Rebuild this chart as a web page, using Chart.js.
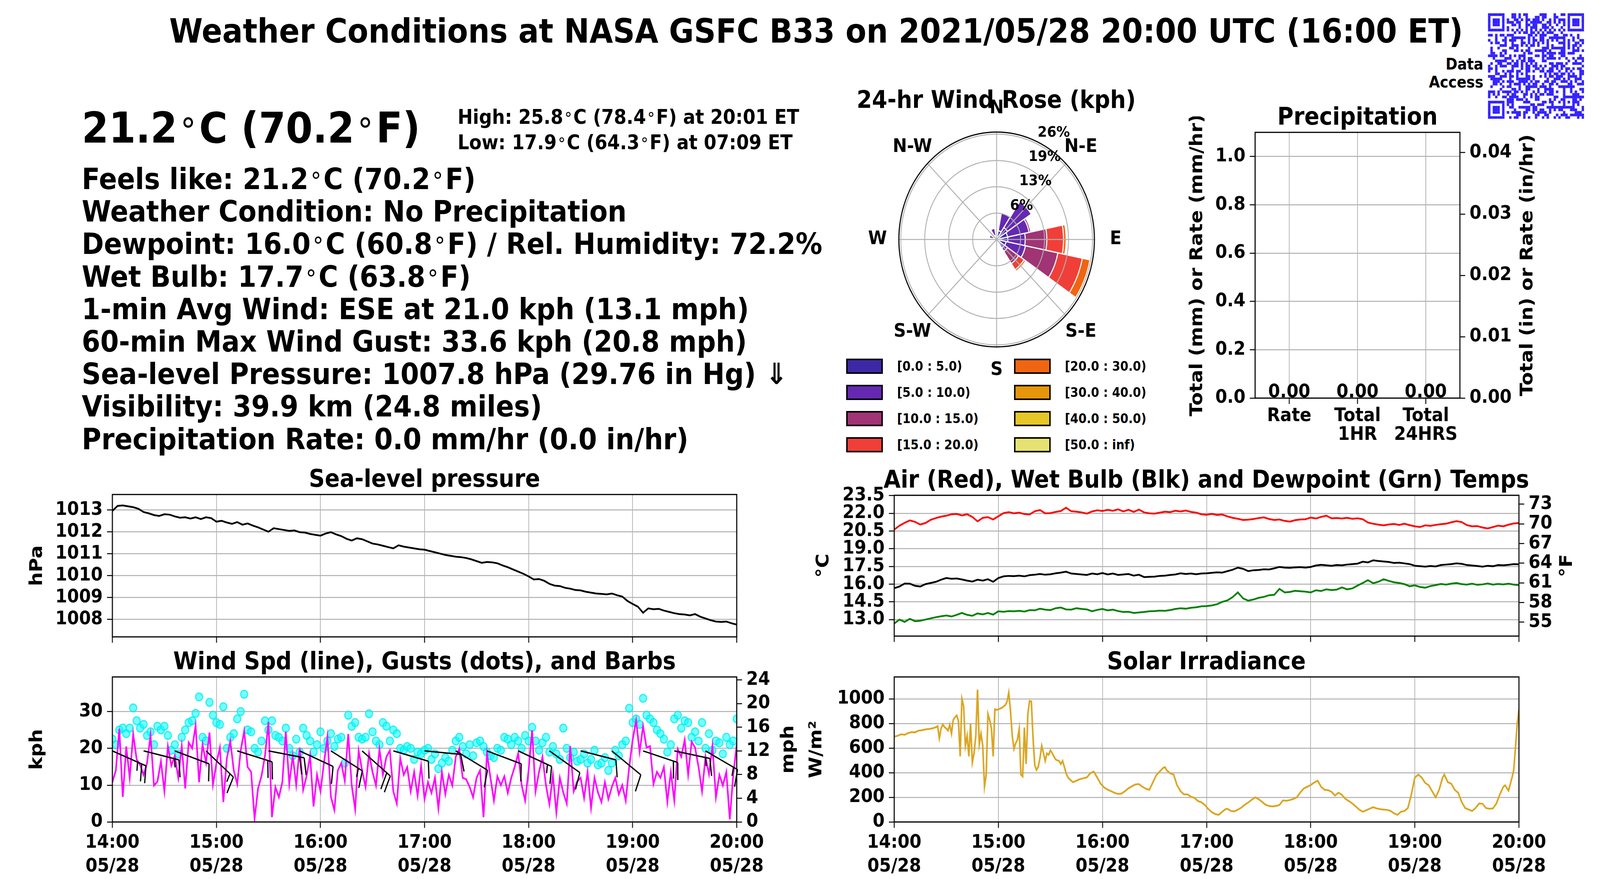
<!DOCTYPE html>
<html lang="en">
<head>
<meta charset="UTF-8">
<title>Weather Conditions at NASA GSFC B33</title>
<script src="https://cdn.jsdelivr.net/npm/chart.js"></script>
<style>
  html, body { margin: 0; padding: 0; background: #fff; overflow: hidden; }
  body { width: 100vw; height: 100vh; }
  #page { position: absolute; left: 0; top: 0; width: 4500px; height: 2250px; transform-origin: 0 0;
          font-family: "DejaVu Sans", sans-serif; font-weight: bold; color: #000; background: #fff; }
  .txt { position: absolute; line-height: 0; white-space: nowrap; }
  .deg { font-weight: normal; font-size: 0.8em; padding: 0 0.1em; }
  .swatch { position: absolute; box-sizing: border-box; border: 4px solid #000; }
  canvas { display: block; }
</style>
</head>
<body>
<div id="page"></div>
<script>
// time axis: minutes after 14:00 on 05/28
const hourTicks = [0, 60, 120, 180, 240, 300, 360];
const hourLabels = ['14:00', '15:00', '16:00', '17:00', '18:00', '19:00', '20:00'];
const dayLabel = '05/28';

// sea-level pressure, hPa, every 3 min
const slpStep = 3;
const slp = [
  1012.95,1013.18,1013.20,1013.16,1013.12,1013.05,1012.90,1012.84,1012.76,1012.72,
  1012.80,1012.78,1012.70,1012.64,1012.66,1012.60,1012.66,1012.58,1012.66,1012.62,
  1012.46,1012.50,1012.42,1012.36,1012.44,1012.32,1012.38,1012.28,1012.20,1012.10,
  1012.00,1012.16,1012.12,1012.08,1012.04,1012.06,1011.98,1011.96,1011.90,1011.86,
  1011.82,1011.92,1011.98,1011.88,1011.80,1011.68,1011.60,1011.70,1011.66,1011.56,
  1011.46,1011.42,1011.36,1011.30,1011.24,1011.38,1011.32,1011.28,1011.24,1011.20,
  1011.18,1011.12,1011.06,1011.00,1010.94,1010.90,1010.86,1010.84,1010.80,1010.74,
  1010.66,1010.58,1010.62,1010.60,1010.56,1010.46,1010.38,1010.28,1010.18,1010.08,
  1009.96,1009.82,1009.84,1009.76,1009.62,1009.54,1009.52,1009.44,1009.40,1009.34,
  1009.32,1009.26,1009.22,1009.18,1009.16,1009.14,1009.18,1009.10,1009.04,1008.84,
  1008.70,1008.58,1008.30,1008.50,1008.46,1008.48,1008.40,1008.34,1008.28,1008.24,
  1008.22,1008.18,1008.24,1008.12,1008.04,1007.96,1007.90,1007.88,1007.90,1007.82,
  1007.76
];

// temperatures, deg C, every 3 min
const tempStep = 3;
const airT = [
  20.62,20.95,21.20,21.40,21.28,21.05,21.18,21.45,21.60,21.72,
  21.80,21.92,21.95,21.82,21.92,21.70,21.32,21.62,21.68,21.48,
  21.75,22.02,22.10,22.00,22.06,21.94,21.90,22.18,22.28,22.00,
  22.02,22.12,22.20,22.48,22.18,22.14,22.08,21.98,22.16,22.26,
  22.20,22.30,22.22,22.34,22.16,22.30,22.12,22.32,22.08,22.00,
  21.98,22.06,22.14,22.10,22.22,22.16,22.24,22.12,22.06,21.92,
  21.88,21.96,21.86,21.90,21.74,21.62,21.54,21.44,21.46,21.52,
  21.60,21.66,21.52,21.44,21.48,21.36,21.30,21.42,21.48,21.50,
  21.64,21.56,21.70,21.80,21.58,21.60,21.56,21.62,21.54,21.58,
  21.50,21.22,21.12,21.04,20.98,21.06,21.10,21.02,21.12,21.00,
  20.90,20.84,20.98,20.94,21.02,21.08,21.12,21.24,21.34,21.26,
  21.00,20.90,20.92,20.80,20.72,20.84,20.96,20.90,21.04,21.14,
  21.18
];
const wetBulb = [
  15.66,15.80,16.05,16.04,15.86,15.80,16.00,16.10,16.20,16.38,
  16.52,16.46,16.48,16.40,16.30,16.22,16.38,16.30,16.42,16.20,
  16.52,16.66,16.70,16.68,16.72,16.66,16.76,16.80,16.86,16.80,
  16.84,16.92,16.98,17.06,16.90,16.86,16.82,16.78,16.90,16.84,
  16.94,16.82,16.90,16.78,16.82,16.86,16.72,16.80,16.60,16.62,
  16.64,16.70,16.72,16.78,16.82,16.92,16.86,16.90,16.84,16.90,
  16.92,16.96,17.00,16.98,17.10,17.22,17.40,17.30,17.10,17.18,
  17.20,17.26,17.24,17.34,17.46,17.40,17.38,17.42,17.44,17.40,
  17.46,17.58,17.64,17.60,17.56,17.62,17.60,17.66,17.70,17.74,
  17.90,17.84,18.02,17.96,17.92,17.88,17.80,17.82,17.76,17.70,
  17.56,17.52,17.48,17.54,17.50,17.62,17.66,17.70,17.76,17.72,
  17.62,17.58,17.54,17.48,17.56,17.52,17.62,17.60,17.64,17.70,
  17.68
];
const dewPt = [
  12.66,13.00,12.80,13.06,12.86,12.90,13.00,13.10,13.20,13.28,
  13.34,13.26,13.40,13.56,13.40,13.32,13.52,13.44,13.56,13.42,
  13.70,13.66,13.72,13.70,13.74,13.68,13.80,13.78,13.92,13.84,
  13.80,13.96,14.02,13.86,13.84,13.96,13.90,13.86,13.70,13.82,
  13.90,13.78,13.84,13.72,13.64,13.66,13.56,13.60,13.64,13.70,
  13.72,13.76,13.74,13.80,13.90,13.96,13.92,14.00,14.04,14.12,
  14.14,14.20,14.30,14.50,14.62,14.90,15.30,14.80,14.60,14.70,
  14.84,14.92,15.06,15.10,15.60,15.30,15.34,15.44,15.40,15.36,
  15.30,15.48,15.42,15.56,15.50,15.54,15.72,15.56,15.64,15.88,
  16.10,16.34,16.08,16.20,16.42,16.28,16.16,16.10,16.00,15.82,
  15.90,15.76,15.70,15.84,15.92,16.02,15.96,16.04,16.10,16.00,
  15.96,16.04,15.94,15.98,16.06,15.96,16.02,15.98,16.04,15.96,
  15.92
];

// wind speed and gusts, kph, every 2 min
const windStep = 2;
const windSpd = [
  10.8,14.0,25.3,6.8,20.5,12.0,23.9,17.0,15.5,12.8,
  16.0,23.5,9.9,11.0,16.5,8.3,20.6,15.3,18.0,12.0,
  20.6,9.1,21.6,20.0,26.2,10.8,21.0,16.1,24.3,10.1,
  16.0,20.2,5.4,17.3,22.0,14.0,10.3,19.4,24.7,14.9,
  13.6,0.9,9.1,12.5,18.0,27.2,1.3,9.5,6.7,10.8,
  24.5,10.3,18.0,10.0,20.2,8.7,12.5,18.0,4.2,12.8,
  8.3,16.0,23.1,6.9,3.2,14.0,16.0,11.2,23.9,10.0,
  3.4,19.4,14.0,9.5,18.6,13.6,9.9,19.8,12.8,17.7,
  19.4,8.3,5.0,17.3,12.8,14.9,8.3,13.6,7.1,15.3,
  6.2,10.8,7.9,12.0,3.6,13.6,7.5,12.8,9.9,17.7,
  19.8,12.0,11.6,9.5,6.7,12.0,14.0,1.3,18.6,12.0,
  5.8,12.4,10.0,12.4,7.9,12.0,15.0,18.6,10.0,5.8,
  14.0,24.9,8.3,13.6,17.7,10.0,4.8,12.8,2.5,12.0,
  8.0,5.0,20.6,8.3,11.0,12.0,6.5,13.6,3.8,12.0,
  8.0,5.4,10.8,6.2,9.5,12.0,7.5,10.0,5.8,14.9,
  22.3,27.6,19.0,26.0,20.2,20.6,10.3,13.6,12.0,14.9,
  5.4,13.6,5.8,19.8,17.7,22.3,12.8,21.8,20.2,14.9,
  8.3,17.7,13.0,20.6,6.7,12.8,9.9,13.6,0.7,12.8,
  21.0
];
const windGust = [
  22.5,21.0,25.0,25.5,24.0,25.5,31.0,27.5,25.5,26.5,
  23.5,24.5,21.0,26.0,25.0,26.0,23.5,19.5,21.0,18.5,
  23.0,25.0,27.0,27.5,29.5,34.0,23.0,22.0,32.5,29.0,
  27.0,26.5,31.3,20.0,23.0,24.0,28.0,30.0,34.7,25.0,
  24.5,20.0,19.0,22.0,27.5,25.0,27.5,23.5,23.0,22.0,
  25.5,20.0,18.0,22.5,19.0,25.5,23.5,22.0,19.0,21.0,
  24.5,20.0,22.0,24.0,20.5,22.5,23.0,16.0,29.0,26.0,
  27.0,23.0,22.5,23.0,29.4,24.5,22.0,21.0,27.0,26.0,
  22.0,25.0,24.0,20.0,19.5,20.5,20.0,17.0,19.0,18.5,
  19.5,20.0,17.0,18.5,14.5,16.0,17.5,16.5,19.5,22.0,
  23.0,20.5,18.5,21.0,18.0,21.5,22.0,20.5,19.0,18.0,
  17.5,20.0,19.5,23.0,22.5,21.0,23.0,22.0,20.0,23.5,
  22.0,25.7,22.0,19.5,21.5,23.0,19.0,20.5,18.5,17.0,
  25.5,20.0,17.5,19.0,16.5,17.0,18.5,16.0,17.0,19.5,
  15.5,16.0,17.5,14.0,16.0,19.5,18.0,21.0,22.0,30.9,
  27.0,28.0,26.5,33.6,29.0,28.0,27.0,25.0,24.0,22.5,
  19.0,21.0,28.0,29.0,25.5,27.5,27.0,23.0,24.5,22.0,
  27.0,20.0,24.0,19.5,22.0,21.5,18.5,23.0,21.0,22.0,
  28.0
];

// wind barbs: time (min), direction (deg from), speed (barb units), anchored at 12 mph
const barbT = [0, 18, 36, 54, 72, 90, 108, 126, 144, 162, 180, 198, 216, 234, 252, 270, 288, 306, 324, 342];
const barbDir = [112, 103, 109, 131, 106, 100, 113, 120, 129, 105, 95, 119, 109, 113, 123, 103, 127, 107, 101, 118];
const barbSpd = [25, 15, 10, 15, 20, 20, 10, 15, 20, 10, 10, 10, 10, 15, 10, 10, 10, 20, 15, 15];
const barbAnchorMph = 12;

// solar irradiance, W/m2
const solarT = [
  0,2,4,6,8,10,12,14,16,18,
  20,22,24,25,26,27,28,29,30,31,
  32,33,34,35,36,37,38,39,40,41,
  42,43,44,45,46,47,48,49,50,51,
  52,53,54,55,56,57,58,59,60,62,
  64,65,66,67,68,69,70,71,72,73,
  74,75,76,77,78,79,80,81,82,83,
  84,85,86,87,88,89,90,91,92,93,
  94,95,96,97,98,99,100,101,103,105,
  107,109,111,113,115,117,119,121,123,125,
  127,129,131,133,135,137,139,141,143,145,
  147,149,151,153,155,156,157,159,161,163,
  165,167,169,171,173,175,177,179,181,183,
  185,187,189,191,192,194,196,198,200,202,
  204,206,208,210,212,214,216,218,220,222,
  224,226,228,230,232,234,236,238,240,242,
  244,246,248,250,252,254,256,258,260,262,
  264,266,268,270,272,274,276,278,280,282,
  284,286,288,290,292,294,296,298,300,302,
  304,306,308,310,312,314,316,317,319,321,
  323,325,327,329,331,333,335,337,339,341,
  343,345,347,349,351,352,354,356,357,358,
  359,360
];
const solarW = [
  693,700,712,708,722,730,728,742,745,752,
  755,760,770,779,680,760,792,770,760,742,
  790,718,829,850,866,820,533,1001,940,619,
  700,533,798,483,557,700,1075,631,718,620,
  286,385,878,829,760,533,915,910,915,927,
  950,977,1051,900,700,594,640,668,755,385,
  370,767,471,878,983,980,680,459,422,450,
  520,619,560,496,557,545,582,560,533,508,
  500,496,470,496,450,397,365,348,323,335,
  348,355,362,397,409,360,310,280,262,250,
  236,228,231,250,274,290,305,308,286,270,
  261,320,380,410,440,446,420,395,385,298,
  250,224,224,205,196,170,160,138,105,80,
  64,58,83,105,107,90,86,100,116,140,
  158,180,200,185,163,140,130,126,130,138,
  175,172,178,187,200,240,272,286,300,320,
  335,286,261,258,245,215,238,220,187,170,
  150,125,100,83,95,108,120,110,104,101,
  98,90,70,58,83,89,113,224,360,385,
  360,317,298,249,200,261,360,385,323,311,
  261,237,163,113,101,89,113,150,148,113,
  107,110,150,224,286,298,255,360,422,607,
  792,915
];

// precipitation
const precipCats = [['Rate'], ['Total', '1HR'], ['Total', '24HRS']];
const precipMM = [0, 0, 0];

// 24-hr wind rose, percent of time per direction (N clockwise) and speed bin
const roseDirs = ['N','NNE','NE','ENE','E','ESE','SE','SSE','S','SSW','SW','WSW','W','WNW','NW','NNW'];
const roseBin1 = [0.6, 2.2, 3.5, 3.0, 3.0, 2.6, 2.5, 0.6, 0, 0, 0, 0, 0.2, 0.8, 0.3, 1.0];
const roseBin2 = [0.3, 4.4, 7.7, 5.9, 4.7, 5.3, 1.0, 0, 0, 0, 0, 0, 0, 1.2, 0, 1.8];
const roseBin3 = [0, 0.2, 0, 0.5, 5.8, 8.9, 3.6, 0, 0, 0, 0, 0, 0, 0, 0, 0];
const roseBin4 = [0, 0, 0, 0, 4.5, 6.7, 1.8, 0, 0, 0, 0, 0, 0, 0, 0, 0];
const roseBin5 = [0, 0, 0, 0, 0.7, 2.1, 0.5, 0, 0, 0, 0, 0, 0, 0, 0, 0];
const roseBin6 = [0, 0, 0, 0, 0, 0.15, 0, 0, 0, 0, 0, 0, 0, 0, 0, 0];
const roseBin7 = [0, 0, 0, 0, 0, 0, 0, 0, 0, 0, 0, 0, 0, 0, 0, 0];
const roseBin8 = [0, 0, 0, 0, 0, 0, 0, 0, 0, 0, 0, 0, 0, 0, 0, 0];
const roseBinLabels = ['[0.0 : 5.0)', '[5.0 : 10.0)', '[10.0 : 15.0)', '[15.0 : 20.0)',
                       '[20.0 : 30.0)', '[30.0 : 40.0)', '[40.0 : 50.0)', '[50.0 : inf)'];
const roseColors = ['#3d28a6', '#6429b0', '#a03474', '#f03f38', '#f06511', '#e6960a', '#e6c728', '#e6e272'];
const roseTicks = [6.45, 12.9, 19.35, 25.8];
const roseOuter = 26.3;
const compassLabels = ['N', 'N-E', 'E', 'S-E', 'S', 'S-W', 'W', 'N-W'];

const GRID = '#b0b0b0';
const FONT = '"DejaVu Sans", sans-serif';
Chart.defaults.font.family = FONT;
Chart.defaults.font.weight = 'bold';
Chart.defaults.font.size = 48;
Chart.defaults.color = '#000';
Chart.defaults.animation = false;
Chart.defaults.events = [];
Chart.defaults.plugins.legend.display = false;
Chart.defaults.plugins.tooltip.enabled = false;

// the figure is laid out on a 4500 x 2250 sheet, stretched to fill the window
const page = document.getElementById('page');
page.style.transform = `scale(${window.innerWidth / 4500}, ${window.innerHeight / 2250})`;

const D = '<span class="deg">°</span>';

function addText(html, x, base, size, align) {
  const d = document.createElement('div');
  d.className = 'txt';
  d.style.fontSize = size + 'px';
  d.style.top = (base - 0.346 * size) + 'px';
  d.innerHTML = html;
  if (align === 'center') { d.style.left = x + 'px'; d.style.transform = 'translateX(-50%)'; }
  else if (align === 'right') { d.style.right = (4500 - x) + 'px'; }
  else { d.style.left = x + 'px'; }
  page.appendChild(d);
}

function addCanvas(left, top, w, h) {
  const c = document.createElement('canvas');
  c.width = w; c.height = h;
  c.style.cssText = `position:absolute;left:${left}px;top:${top}px;width:${w}px;height:${h}px;`;
  page.appendChild(c);
  return c;
}

const framePlugin = {
  id: 'frame',
  afterDraw(chart) {
    const { ctx, chartArea: a } = chart;
    ctx.save();
    ctx.strokeStyle = '#000';
    ctx.lineWidth = 3;
    ctx.strokeRect(a.left, a.top, a.right - a.left, a.bottom - a.top);
    ctx.restore();
  }
};

// rotated axis titles, reading bottom to top on both sides
function sideTitles(items) {
  return {
    id: 'sideTitles',
    afterDraw(chart) {
      const { ctx, chartArea: a } = chart;
      ctx.save();
      ctx.font = 'bold 50px ' + FONT;
      ctx.fillStyle = '#000';
      ctx.textAlign = 'center';
      ctx.textBaseline = 'middle';
      items.forEach(it => {
        ctx.save();
        ctx.translate(it.x, (a.top + a.bottom) / 2);
        ctx.rotate(-Math.PI / 2);
        ctx.fillText(it.text, 0, 0);
        ctx.restore();
      });
      ctx.restore();
    }
  };
}

function yAxis(pos, s, width) {
  return {
    type: 'linear', position: pos, min: s.min, max: s.max,
    afterBuildTicks: a => { a.ticks = s.ticks.map(v => ({ value: v })); },
    afterFit: a => { a.width = width; },
    grid: { color: GRID, lineWidth: 2.5, drawOnChartArea: pos === 'left',
            tickColor: '#000', tickLength: 15, tickWidth: 2.5 },
    border: { display: false },
    ticks: { padding: 12, autoSkip: false, callback: s.fmt }
  };
}

function timeAxis(showLabels, height) {
  return {
    type: 'linear', min: 0, max: 360,
    afterBuildTicks: a => { a.ticks = hourTicks.map(v => ({ value: v })); },
    afterFit: a => { a.height = height; },
    grid: { color: GRID, lineWidth: 2, tickColor: '#000', tickLength: 15, tickWidth: 2.5 },
    border: { display: false },
    ticks: { display: showLabels, autoSkip: false, maxRotation: 0, padding: 8,
             font: { lineHeight: 1.27 }, callback: (v, i) => [hourLabels[i], dayLabel] }
  };
}

// o: plot box l,t,r,b; axis widths lw, rw; x axis height bh
function boxChart(o) {
  const padT = 40, padR = o.rw ? 0 : 100;
  const left = o.l - o.lw, top = o.t - padT;
  const w = (o.r - o.l) + o.lw + o.rw + padR;
  const h = (o.b - o.t) + padT + o.bh;
  const cv = addCanvas(left, top, w, h);
  const scales = { x: o.x || timeAxis(o.xLabels, o.bh), y: yAxis('left', o.y, o.lw) };
  if (o.y2) scales.y2 = yAxis('right', o.y2, o.rw);
  return new Chart(cv, {
    type: o.type || 'line',
    data: { labels: o.labels, datasets: o.datasets },
    options: {
      responsive: false,
      layout: { padding: { left: 0, right: padR, top: padT, bottom: 0 } },
      scales,
      elements: { point: { radius: 0 }, line: { tension: 0 } }
    },
    plugins: [framePlugin, sideTitles(o.titles.map(t => ({ text: t.text, x: t.x - left })))].concat(o.extra || [])
  });
}

const series = (arr, step) => arr.map((v, i) => ({ x: i * step, y: v }));

// ---------- text block ----------
addText('Weather Conditions at NASA GSFC B33 on 2021/05/28 20:00 UTC (16:00 ET)', 476, 110, 85.5);
addText('Data', 4172, 178, 40, 'right');
addText('Access', 4172, 224, 40, 'right');
addText(`21.2${D}C (70.2${D}F)`, 230, 366, 109);
addText(`High: 25.8${D}C (78.4${D}F) at 20:01 ET`, 1287, 318, 51);
addText(`Low: 17.9${D}C (64.3${D}F) at 07:09 ET`, 1287, 383, 51);
[
  `Feels like: 21.2${D}C (70.2${D}F)`,
  'Weather Condition: No Precipitation',
  `Dewpoint: 16.0${D}C (60.8${D}F) / Rel. Humidity: 72.2%`,
  `Wet Bulb: 17.7${D}C (63.8${D}F)`,
  '1-min Avg Wind: ESE at 21.0 kph (13.1 mph)',
  '60-min Max Wind Gust: 33.6 kph (20.8 mph)',
  'Sea-level Pressure: 1007.8 hPa (29.76 in Hg) ⇓',
  'Visibility: 39.9 km (24.8 miles)',
  'Precipitation Rate: 0.0 mm/hr (0.0 in/hr)'
].forEach((t, k) => addText(t, 230, 484 + k * 83.2, 75));

// ---------- chart titles ----------
addText('24-hr Wind Rose (kph)', 2802, 276, 62, 'center');
addText('Precipitation', 3818, 319, 62, 'center');
addText('Sea-level pressure', 1194, 1246, 62, 'center');
addText('Wind Spd (line), Gusts (dots), and Barbs', 1194, 1713, 62, 'center');
addText('Air (Red), Wet Bulb (Blk) and Dewpoint (Grn) Temps', 3393, 1248, 62, 'center');
addText('Solar Irradiance', 3393, 1713, 62, 'center');

// ---------- sea-level pressure ----------
boxChart({
  l: 316, t: 1265, r: 2072, b: 1641, lw: 241, rw: 0, bh: 30, xLabels: false,
  y: { min: 1007.2, max: 1013.7, ticks: [1008, 1009, 1010, 1011, 1012, 1013], fmt: v => String(v) },
  titles: [{ text: 'hPa', x: 105 }],
  datasets: [{ data: series(slp, slpStep), borderColor: '#000', borderWidth: 4.5 }]
});

// ---------- wind ----------
const barbPlugin = {
  id: 'barbs',
  afterDatasetsDraw(chart) {
    const { ctx } = chart, xs = chart.scales.x, ys = chart.scales.y2;
    const L = 102, y0 = ys.getPixelForValue(barbAnchorMph);
    ctx.save();
    ctx.strokeStyle = '#000';
    ctx.lineWidth = 3.5;
    barbT.forEach((t, i) => {
      const a = barbDir[i] * Math.PI / 180;
      const ux = Math.sin(a), uy = -Math.cos(a);
      const px = -uy, py = ux;
      const x0 = xs.getPixelForValue(t);
      const tx = x0 + L * ux, ty = y0 + L * uy;
      ctx.beginPath();
      ctx.moveTo(x0, y0);
      ctx.lineTo(tx, ty);
      const full = Math.floor(barbSpd[i] / 10), half = barbSpd[i] % 10 >= 5;
      let k = 0;
      for (; k < full; k++) {
        const bx = tx - k * 0.125 * L * ux, by = ty - k * 0.125 * L * uy;
        ctx.moveTo(bx, by);
        ctx.lineTo(bx + 0.42 * L * px + 0.13 * L * ux, by + 0.42 * L * py + 0.13 * L * uy);
      }
      if (half) {
        if (k === 0) k = 1;
        const bx = tx - k * 0.125 * L * ux, by = ty - k * 0.125 * L * uy;
        ctx.moveTo(bx, by);
        ctx.lineTo(bx + 0.21 * L * px + 0.065 * L * ux, by + 0.21 * L * py + 0.065 * L * uy);
      }
      ctx.stroke();
    });
    ctx.restore();
  }
};

const kphMax = 39.4;
boxChart({
  l: 316, t: 1732, r: 2072, b: 2104, lw: 241, rw: 190, bh: 146, xLabels: true,
  y: { min: 0, max: kphMax, ticks: [0, 10, 20, 30], fmt: v => String(v) },
  y2: { min: 0, max: kphMax / 1.609344, ticks: [0, 4, 8, 12, 16, 20, 24], fmt: v => String(v) },
  titles: [{ text: 'kph', x: 105 }, { text: 'mph', x: 2218 }],
  datasets: [
    { data: series(windGust, windStep), showLine: false, order: 2,
      pointRadius: 10, pointBackgroundColor: 'rgba(0,255,255,0.55)',
      pointBorderColor: 'rgba(0,235,235,0.8)', pointBorderWidth: 3 },
    { data: series(windSpd, windStep), borderColor: '#ff00ff', borderWidth: 4.5, order: 1 }
  ],
  extra: [barbPlugin]
});

// ---------- temperatures ----------
const cMin = 11.6, cMax = 23.53;
boxChart({
  l: 2515, t: 1267, r: 4272, b: 1639, lw: 245, rw: 180, bh: 30, xLabels: false,
  y: { min: cMin, max: cMax, ticks: [13, 14.5, 16, 17.5, 19, 20.5, 22, 23.5], fmt: v => v.toFixed(1) },
  y2: { min: cMin * 1.8 + 32, max: cMax * 1.8 + 32, ticks: [55, 58, 61, 64, 67, 70, 73], fmt: v => String(v) },
  titles: [{ text: '°C', x: 2317 }, { text: '°F', x: 4408 }],
  datasets: [
    { data: series(airT, tempStep), borderColor: '#ff0000', borderWidth: 4.5 },
    { data: series(wetBulb, tempStep), borderColor: '#000000', borderWidth: 4.5 },
    { data: series(dewPt, tempStep), borderColor: '#008000', borderWidth: 4.5 }
  ]
});

// ---------- solar ----------
boxChart({
  l: 2515, t: 1732, r: 4272, b: 2104, lw: 245, rw: 0, bh: 146, xLabels: true,
  y: { min: 0, max: 1178, ticks: [0, 200, 400, 600, 800, 1000], fmt: v => String(v) },
  titles: [{ text: 'W/m²', x: 2297 }],
  datasets: [{ data: solarT.map((t, i) => ({ x: t, y: solarW[i] })), borderColor: '#daa520', borderWidth: 4.5 }]
});

// ---------- precipitation ----------
const precipLabelPlugin = {
  id: 'precipLabels',
  afterDatasetsDraw(chart) {
    const { ctx } = chart, xs = chart.scales.x, ys = chart.scales.y;
    ctx.save();
    ctx.font = 'bold 48px ' + FONT;
    ctx.fillStyle = '#000';
    ctx.textAlign = 'center';
    ctx.textBaseline = 'alphabetic';
    precipMM.forEach((v, i) => ctx.fillText(v.toFixed(2), xs.getPixelForValue(i), ys.getPixelForValue(v) - 2));
    ctx.restore();
  }
};
const mmMax = 1.1;
boxChart({
  type: 'bar', l: 3530, t: 338, r: 4106, b: 1019, lw: 210, rw: 230, bh: 150,
  labels: precipCats,
  x: {
    type: 'category', offset: true,
    afterFit: a => { a.height = 150; },
    grid: { offset: false, color: GRID, lineWidth: 2, tickColor: '#000', tickLength: 15, tickWidth: 2.5 },
    border: { display: false },
    ticks: { padding: 8, maxRotation: 0, autoSkip: false, font: { lineHeight: 1.0 } }
  },
  y: { min: 0, max: mmMax, ticks: [0, 0.2, 0.4, 0.6, 0.8, 1.0], fmt: v => v.toFixed(1) },
  y2: { min: 0, max: mmMax / 25.4, ticks: [0, 0.01, 0.02, 0.03, 0.04], fmt: v => v.toFixed(2) },
  titles: [{ text: 'Total (mm) or Rate (mm/hr)', x: 3368 }, { text: 'Total (in) or Rate (in/hr)', x: 4297 }],
  datasets: [{ data: precipMM, backgroundColor: '#1f77b4', barPercentage: 0.8 }],
  extra: [precipLabelPlugin]
});

// ---------- wind rose ----------
const roseBins = [roseBin1, roseBin2, roseBin3, roseBin4, roseBin5, roseBin6, roseBin7, roseBin8];
const roseCum = [];
roseBins.forEach((bin, k) => roseCum.push(bin.map((v, d) => v + (k ? roseCum[k - 1][d] : 0))));

const rosePlugin = {
  id: 'roseDecor',
  afterDraw(chart) {
    const s = chart.scales.r, ctx = chart.ctx;
    const cx = s.xCenter, cy = s.yCenter, R = s.getDistanceFromCenterForValue(roseOuter);
    ctx.save();
    ctx.strokeStyle = GRID;
    ctx.lineWidth = 2.5;
    for (let k = 0; k < 8; k++) {
      const a = k * Math.PI / 4;
      ctx.beginPath();
      ctx.moveTo(cx, cy);
      ctx.lineTo(cx + R * Math.sin(a), cy - R * Math.cos(a));
      ctx.stroke();
    }
    ctx.strokeStyle = '#000';
    ctx.lineWidth = 3;
    ctx.beginPath();
    ctx.arc(cx, cy, R, 0, 2 * Math.PI);
    ctx.stroke();
    ctx.fillStyle = '#000';
    ctx.font = 'bold 48px ' + FONT;
    ctx.textAlign = 'center';
    ctx.textBaseline = 'middle';
    compassLabels.forEach((t, k) => {
      const a = k * Math.PI / 4;
      ctx.fillText(t, cx + (R + 60) * Math.sin(a), cy - (R + 60) * Math.cos(a));
    });
    ctx.font = 'bold 38px ' + FONT;
    ctx.textAlign = 'left';
    const a = Math.PI / 8;
    roseTicks.forEach(v => {
      const r = s.getDistanceFromCenterForValue(v);
      ctx.fillText(v.toFixed(0) + '%', cx + r * Math.sin(a) + 12, cy - r * Math.cos(a) - 24);
    });
    ctx.restore();
  }
};

const roseCanvas = addCanvas(2428, 238, 750, 750);
new Chart(roseCanvas, {
  type: 'polarArea',
  data: {
    labels: roseDirs,
    datasets: roseCum.map((arr, k) => ({ data: arr, backgroundColor: roseColors[k], borderColor: '#fff', borderWidth: 3 }))
  },
  options: {
    responsive: false,
    scales: {
      r: {
        min: 0, max: roseOuter * 375 / 275, startAngle: -11.25, z: 1,
        afterBuildTicks: a => { a.ticks = [0].concat(roseTicks).map(v => ({ value: v })); },
        ticks: { display: false, z: 1 },
        pointLabels: { display: false },
        angleLines: { display: false },
        grid: { color: GRID, lineWidth: 2.5, circular: true, z: 1 }
      }
    }
  },
  plugins: [rosePlugin]
});

// legend for the rose, two columns of four
roseBinLabels.forEach((lab, k) => {
  const col = Math.floor(k / 4), row = k % 4;
  const x = 2380 + col * 472, cy = 937 + row * 67;
  const sw = document.createElement('div');
  sw.className = 'swatch';
  sw.style.cssText += `left:${x}px;top:${cy - 19.5}px;width:103px;height:39px;background:${roseColors[k]};`;
  page.appendChild(sw);
  addText(lab, x + 143, cy + 12, 33);
});

// ---------- data access code ----------
(function drawCode() {
  const n = 41, size = 270, m = size / n;
  const c = addCanvas(4185, 34, size, size);
  const g = c.getContext('2d');
  const cells = [];
  let seed = 20210528;
  for (let r = 0; r < n; r++) {
    cells.push([]);
    for (let q = 0; q < n; q++) {
      seed = (Math.imul(seed, 1103515245) + 12345) >>> 0;
      cells[r].push(((seed >>> 16) & 1) === 1);
    }
  }
  const finder = (r0, q0) => {
    for (let r = -1; r < 8; r++) for (let q = -1; q < 8; q++) {
      const rr = r0 + r, qq = q0 + q;
      if (rr < 0 || qq < 0 || rr >= n || qq >= n) continue;
      const ring = Math.max(Math.abs(r - 3), Math.abs(q - 3));
      cells[rr][qq] = ring !== 2 && ring !== 4;
    }
  };
  finder(0, 0); finder(0, n - 7); finder(n - 7, 0);
  for (let i = 8; i < n - 8; i++) { cells[6][i] = i % 2 === 0; cells[i][6] = i % 2 === 0; }
  for (let r = -2; r <= 2; r++) for (let q = -2; q <= 2; q++) {
    const ring = Math.max(Math.abs(r), Math.abs(q));
    cells[34 + r][34 + q] = ring !== 1;
  }
  g.fillStyle = '#3322ff';
  for (let r = 0; r < n; r++) for (let q = 0; q < n; q++) {
    if (cells[r][q]) g.fillRect(q * m, r * m, m + 0.3, m + 0.3);
  }
})();
</script>
</body>
</html>
